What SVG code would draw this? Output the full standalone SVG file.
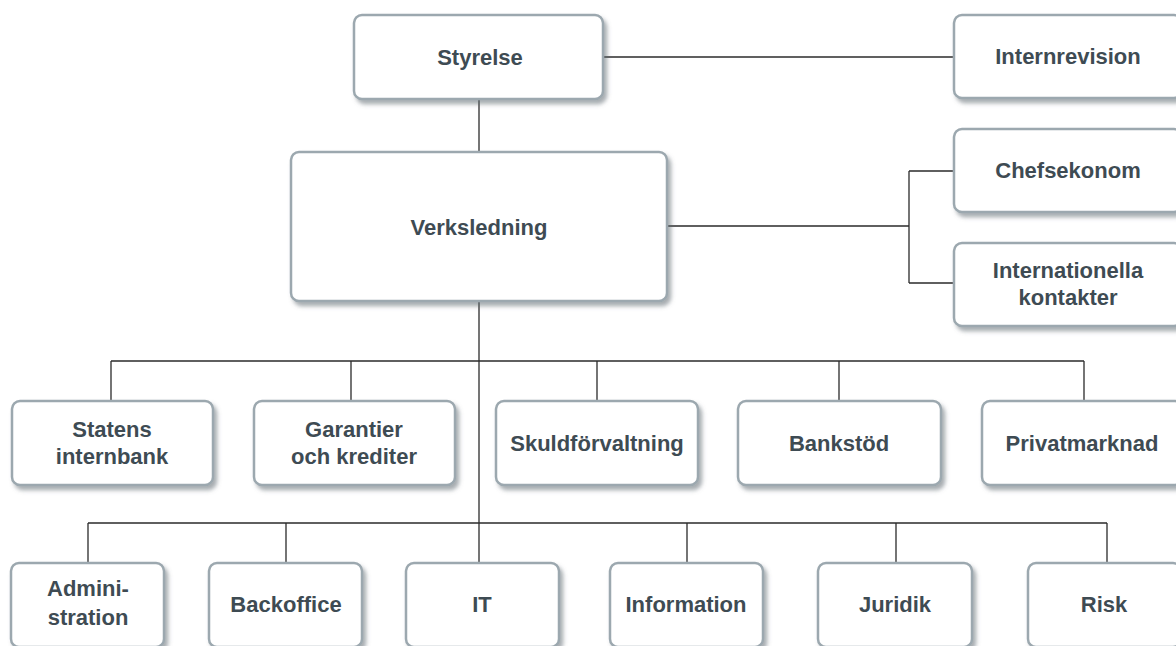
<svg xmlns="http://www.w3.org/2000/svg" width="1176" height="646" viewBox="0 0 1176 646">
<defs>
<filter id="sh" x="-10%" y="-10%" width="130%" height="140%">
<feDropShadow dx="3" dy="4" stdDeviation="2.2" flood-color="#5f6a70" flood-opacity="0.55"/>
</filter>
</defs>
<style>
.box{fill:#ffffff;stroke:#9ca8af;stroke-width:2.5;filter:url(#sh)}
.t{font-family:"Liberation Sans",Arial,sans-serif;font-weight:700;font-size:22px;fill:#3e4b53;text-anchor:middle}
.c{stroke:#2b2b2b;stroke-width:1.3;fill:none}
</style>
<rect width="1176" height="646" fill="#ffffff"/>
<g id="connectors">
<path class="c" d="M603 57H954"/>
<path class="c" d="M479 99V152"/>
<path class="c" d="M479 301V563"/>
<path class="c" d="M667 226H909M909 171V283M909 171H954M909 283H954"/>
<path class="c" d="M111 361H1084M111 361V401M351 361V401M597 361V401M839 361V401M1084 361V401"/>
<path class="c" d="M88 523H1107M88 523V563M286 523V563M687 523V563M896 523V563M1107 523V563"/>
</g>
<g id="styrelse"><rect class="box" x="354" y="15" width="249" height="84" rx="8"/><text class="t" x="480" y="65">Styrelse</text></g>
<g id="internrevision"><rect class="box" x="954" y="15" width="228" height="83" rx="8"/><text class="t" x="1068" y="64">Internrevision</text></g>
<g id="verksledning"><rect class="box" x="291" y="152" width="376" height="149" rx="8"/><text class="t" x="479" y="235">Verksledning</text></g>
<g id="chefsekonom"><rect class="box" x="954" y="129" width="228" height="83" rx="8"/><text class="t" x="1068" y="178">Chefsekonom</text></g>
<g id="internationella"><rect class="box" x="954" y="243" width="228" height="83" rx="8"/><text class="t" x="1068" y="278">Internationella</text><text class="t" x="1068" y="305">kontakter</text></g>
<g id="statens"><rect class="box" x="12" y="401" width="201" height="84" rx="8"/><text class="t" x="112" y="437">Statens</text><text class="t" x="112" y="464">internbank</text></g>
<g id="garantier"><rect class="box" x="254" y="401" width="201" height="84" rx="8"/><text class="t" x="354" y="437">Garantier</text><text class="t" x="354" y="464">och krediter</text></g>
<g id="skuld"><rect class="box" x="496" y="401" width="202" height="84" rx="8"/><text class="t" x="597" y="451">Skuldförvaltning</text></g>
<g id="bankstod"><rect class="box" x="738" y="401" width="203" height="84" rx="8"/><text class="t" x="839" y="451">Bankstöd</text></g>
<g id="privatmarknad"><rect class="box" x="982" y="401" width="201" height="84" rx="8"/><text class="t" x="1082" y="451">Privatmarknad</text></g>
<g id="administration"><rect class="box" x="11" y="563" width="153" height="84" rx="8"/><text class="t" x="88" y="596">Admini-</text><text class="t" x="88" y="625">stration</text></g>
<g id="backoffice"><rect class="box" x="209" y="563" width="153" height="84" rx="8"/><text class="t" x="286" y="612">Backoffice</text></g>
<g id="it"><rect class="box" x="406" y="563" width="153" height="84" rx="8"/><text class="t" x="482" y="612">IT</text></g>
<g id="information"><rect class="box" x="610" y="563" width="153" height="84" rx="8"/><text class="t" x="686" y="612">Information</text></g>
<g id="juridik"><rect class="box" x="818" y="563" width="154" height="84" rx="8"/><text class="t" x="895" y="612">Juridik</text></g>
<g id="risk"><rect class="box" x="1028" y="563" width="153" height="84" rx="8"/><text class="t" x="1104" y="612">Risk</text></g>
</svg>
